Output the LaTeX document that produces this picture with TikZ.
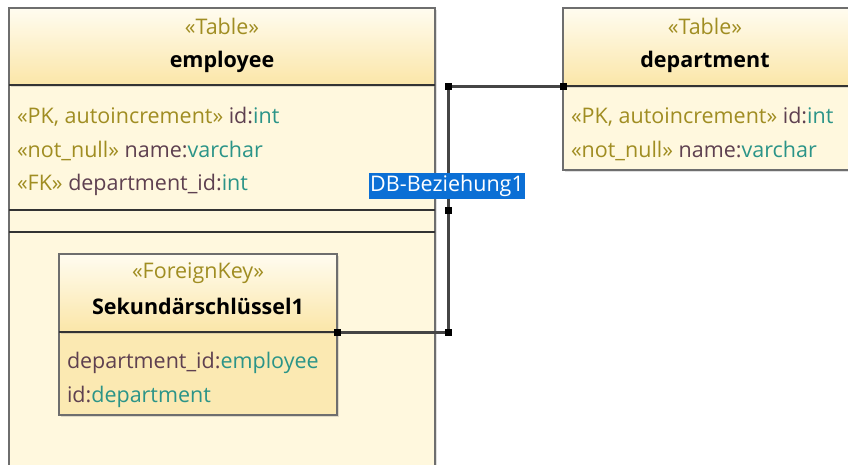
\documentclass[tikz,border=0pt]{standalone}
\usepackage{fontspec}
\setmainfont{Open Sans}
\usetikzlibrary{positioning,shadows}

\definecolor{frame}{HTML}{6E6E6E}
\definecolor{headtop}{HTML}{FFFCF0}
\definecolor{headbot}{HTML}{FBE6A8}
\definecolor{bodyfill}{HTML}{FFF8DE}
\definecolor{fkfill}{HTML}{FBE9B2}
\definecolor{stereo}{HTML}{A08D22}
\definecolor{attrname}{HTML}{5E4050}
\definecolor{attrtype}{HTML}{2B9488}
\definecolor{selblue}{HTML}{0B6FD5}
\definecolor{linkgray}{HTML}{454545}

\begin{document}
\begin{tikzpicture}[x=1pt, y=-1pt, node distance=14pt,
    every node/.style={inner sep=0pt, outer sep=0pt, font=\fontsize{21.5}{24}\selectfont},
    headbox/.style={rectangle, draw=frame, line width=1.5pt, anchor=north west, shading=axis, top color=headtop, bottom color=headbot, drop shadow={opacity=0.25, shadow xshift=2pt, shadow yshift=-2pt}},
    bodybox/.style={rectangle, draw=frame, line width=1.5pt, anchor=north west, fill=bodyfill, drop shadow={opacity=0.25, shadow xshift=2pt, shadow yshift=-2pt}},
    stereotype/.style={text=stereo, yshift=-1.5pt},
    title/.style={font=\fontsize{21.5}{24}\selectfont\bfseries, text=black, yshift=-1.5pt},
    attr/.style={anchor=west, text=attrname, yshift=-1.5pt},
    sepline/.style={draw=black!80, line width=1.5pt},
    link/.style={draw=linkgray, line width=3pt},
    handle/.style={fill=black, minimum size=7pt, inner sep=0pt}]
  \clip (0,0) rectangle (848,464);
  \fill[white] (0,0) rectangle (848,464);

  % employee table
  \node[bodybox, minimum width=426pt, minimum height=420pt] (empbody) at (9,85) {};
  \node[headbox, minimum width=426pt, minimum height=77pt] (emphead) at (9,8) {};
  \node[stereotype] (empstereo) at (222,25) {«Table»};
  \node[title] (empname) at (222,60) {employee};
  \node[attr] (empid) at (17,115) {\textcolor{stereo}{«PK, autoincrement»} id:\textcolor{attrtype}{int}};
  \node[attr] (empnm) at (17,149) {\textcolor{stereo}{«not\_null»} name:\textcolor{attrtype}{varchar}};
  \node[attr] (empfk) at (17,183) {\textcolor{stereo}{«FK»} department\_id:\textcolor{attrtype}{int}};
  \draw[sepline] (9,210) -- (435,210);
  \draw[sepline] (9,232) -- (435,232);
  \draw[sepline] (emphead.south west) -- (emphead.south east);

  % department table
  \node[bodybox, minimum width=300pt, minimum height=84pt] (depbody) at (563,86) {};
  \node[headbox, minimum width=300pt, minimum height=78pt] (dephead) at (563,8) {};
  \node[stereotype] (depstereo) at (705,25) {«Table»};
  \node[title] (depname) at (705,60) {department};
  \node[attr] (depid) at (571,115) {\textcolor{stereo}{«PK, autoincrement»} id:\textcolor{attrtype}{int}};
  \node[attr] (depnm) at (571,149) {\textcolor{stereo}{«not\_null»} name:\textcolor{attrtype}{varchar}};
  \draw[sepline] (dephead.south west) -- (dephead.south east);

  % foreign key
  \node[bodybox, fill=fkfill, minimum width=278pt, minimum height=83pt] (fkbody) at (59,332) {};
  \node[headbox, minimum width=278pt, minimum height=78pt] (fkhead) at (59,254) {};
  \node[stereotype] (fkstereo) at (198,272) {«ForeignKey»};
  \node[title] (fkname) at (198,305) {Sekundärschlüssel1};
  \node[attr] (fkcol) at (67,361) {department\_id:\textcolor{attrtype}{employee}};
  \node[attr] (fkref) at (67,395) {id:\textcolor{attrtype}{department}};
  \draw[sepline] (fkhead.south west) -- (fkhead.south east);

  % relation
  \coordinate (bendlow) at (448,332);
  \coordinate (bendhigh) at (448,86);
  \coordinate (bendmid) at (448,210);
  \path[link, draw] (fkhead.south east) -- (bendlow) |- (dephead.south west);
  \foreach \pt in {fkhead.south east, bendlow, bendmid, bendhigh, dephead.south west}
    \node[handle] at (\pt) {};
  \node[fill=selblue, text=white, inner xsep=1pt, inner ysep=2pt] (relname) at (447,186) {DB-Beziehung1};
\end{tikzpicture}
\end{document}
